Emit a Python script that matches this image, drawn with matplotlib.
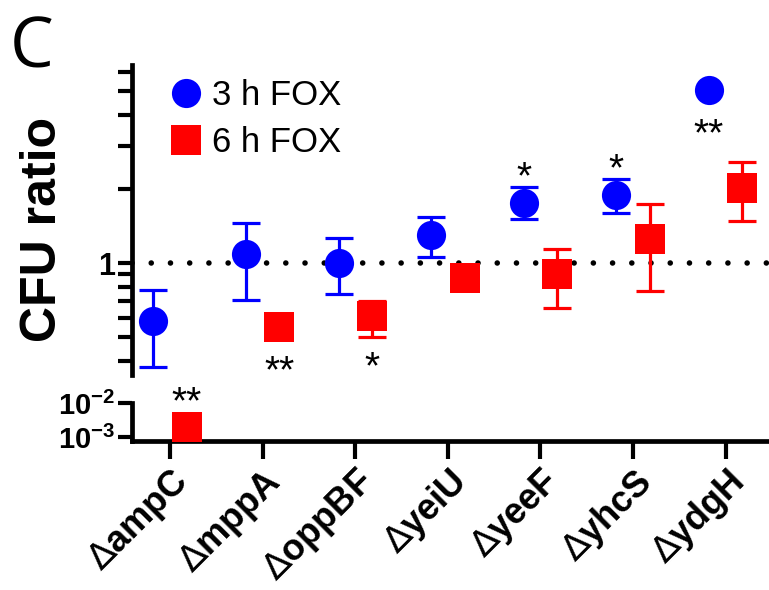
import matplotlib
matplotlib.use("Agg")
import matplotlib.pyplot as plt
import numpy as np
from matplotlib.lines import Line2D
from matplotlib.ticker import NullLocator

strains = ["ampC", "mppA", "oppBF", "yeiU", "yeeF", "yhcS", "ydgH"]

# 3 h FOX (blue circles): mean, lower and upper error bar ends
fox3_mean = [0.58, 1.09, 1.00, 1.30, 1.75, 1.89, 5.05]
fox3_low = [0.38, 0.71, 0.75, 1.06, 1.51, 1.60, 5.05]
fox3_high = [0.78, 1.45, 1.26, 1.54, 2.04, 2.19, 5.05]

# 6 h FOX (red squares)
fox6_mean = [0.002, 0.55, 0.61, 0.87, 0.90, 1.25, 2.02]
fox6_low = [0.002, 0.55, 0.50, 0.87, 0.66, 0.77, 1.48]
fox6_high = [0.002, 0.55, 0.70, 0.87, 1.14, 1.74, 2.57]

upper_ticks = [0.4, 0.5, 0.6, 0.7, 0.8, 0.9, 1, 2, 3, 4, 5, 6]
lower_ticks = [1e-3, 1e-2]
lower_ticklabels = [r"$\mathbf{10^{-3}}$", r"$\mathbf{10^{-2}}$"]

# significance: (strain index, series, text, side)
sig_marks = [
    (0, "6h", "**", "above"),
    (1, "6h", "**", "below"),
    (2, "6h", "*", "below"),
    (4, "3h", "*", "above"),
    (5, "3h", "*", "above"),
    (6, "3h", "**", "below"),
]

plt.rcParams["font.family"] = ["Liberation Sans", "DejaVu Sans"]
plt.rcParams["mathtext.fontset"] = "custom"
plt.rcParams["mathtext.rm"] = "DejaVu Sans"
plt.rcParams["mathtext.bf"] = "Liberation Sans:bold"

BLUE = "#0000ff"
RED = "#ff0000"
MS = 21
LW = 3.4

W, H = 769, 590
fig = plt.figure(figsize=(W / 100, H / 100), dpi=100)


def box(x0, y0, x1, y1):
    return [x0 / W, 1 - y1 / H, (x1 - x0) / W, (y1 - y0) / H]


ax = fig.add_axes(box(132, 65, 772, 375))
axb = fig.add_axes(box(132, 403, 772, 441))

x = np.arange(len(strains))
dx = 0.18
series = {
    "3h": (x - dx, fox3_mean, fox3_low, fox3_high, BLUE, "o"),
    "6h": (x + dx, fox6_mean, fox6_low, fox6_high, RED, "s"),
}

for a in (ax, axb):
    for key, (xs, m, lo, hi, col, mk) in series.items():
        m = np.array(m)
        lo = np.array(lo)
        hi = np.array(hi)
        has_err = hi > lo
        yerr = [(m - lo)[has_err], (hi - m)[has_err]]
        a.errorbar(xs[has_err], m[has_err], yerr=yerr, fmt="none", ecolor=col,
                   elinewidth=2.3, capsize=10.3, capthick=2.3, zorder=2)
        a.plot(xs, m, mk, color=col, ms=MS, mew=0, zorder=3)
    a.set_yscale("log")
    a.set_xlim(-0.41, 6.5)
    a.yaxis.set_minor_locator(NullLocator())
    for s in ("top", "right"):
        a.spines[s].set_visible(False)
    a.spines["left"].set_linewidth(LW)
    a.tick_params(axis="both", which="both", direction="out", length=10,
                  width=3, labelsize=22, pad=2)

# upper panel
ax.set_ylim(0.351, 6.38)
ax.set_yticks(upper_ticks)
ax.set_yticklabels(["1" if t == 1 else "" for t in upper_ticks],
                   fontweight="bold")
ax.yaxis.set_minor_locator(NullLocator())
ax.spines["bottom"].set_visible(False)
ax.set_xticks([])
ax.axhline(1, color="black", lw=4, ls=(0, (0.01, 3.45)),
           dash_capstyle="round", zorder=1)

# lower panel
axb.set_ylim(7.6e-4, 1e-2)
axb.set_yticks(lower_ticks)
axb.set_yticklabels(lower_ticklabels)
axb.tick_params(axis="y", labelsize=21)
axb.yaxis.set_minor_locator(NullLocator())
axb.spines["bottom"].set_linewidth(LW)
axb.set_xticks(x)
axb.set_xticklabels([r"$\Delta$" + s for s in strains], rotation=45,
                    ha="right", rotation_mode="anchor", fontsize=26,
                    fontweight="bold")
axb.tick_params(axis="x", length=13, pad=3)

# significance asterisks
for i, key, txt, side in sig_marks:
    xs, m, lo, hi, col, mk = series[key]
    a = axb if m[i] < 0.01 else ax
    if side == "above":
        y = hi[i]
        off = 20 if hi[i] > m[i] else 20 + MS / 2 * 100 / 72
    else:
        y = lo[i]
        off = -20 if lo[i] < m[i] else -20 - MS / 2 * 100 / 72
    a.annotate(txt, (xs[i], y), xytext=(0, (off - 11) * 0.72),
               textcoords="offset points", ha="center", va="center",
               fontsize=28, annotation_clip=False)

handles = [
    Line2D([], [], marker="o", ls="none", color=BLUE, ms=MS, mew=0),
    Line2D([], [], marker="s", ls="none", color=RED, ms=MS, mew=0),
]
ax.legend(handles, ["3 h FOX", "6 h FOX"], loc="upper left", frameon=False,
          fontsize=25, handletextpad=0.25, labelspacing=0.4,
          borderaxespad=0.0, bbox_to_anchor=(0.035, 1.0), handlelength=1.0)

fig.text(43 / W, 1 - 229 / H, "CFU ratio", rotation=90, ha="center",
         va="center", fontsize=36, fontweight="bold")
fig.text(10 / W, 1 - 14 / H, "C", ha="left", va="top", fontsize=50,
         family="Open Sans")

fig.savefig("out.png", dpi=100)
